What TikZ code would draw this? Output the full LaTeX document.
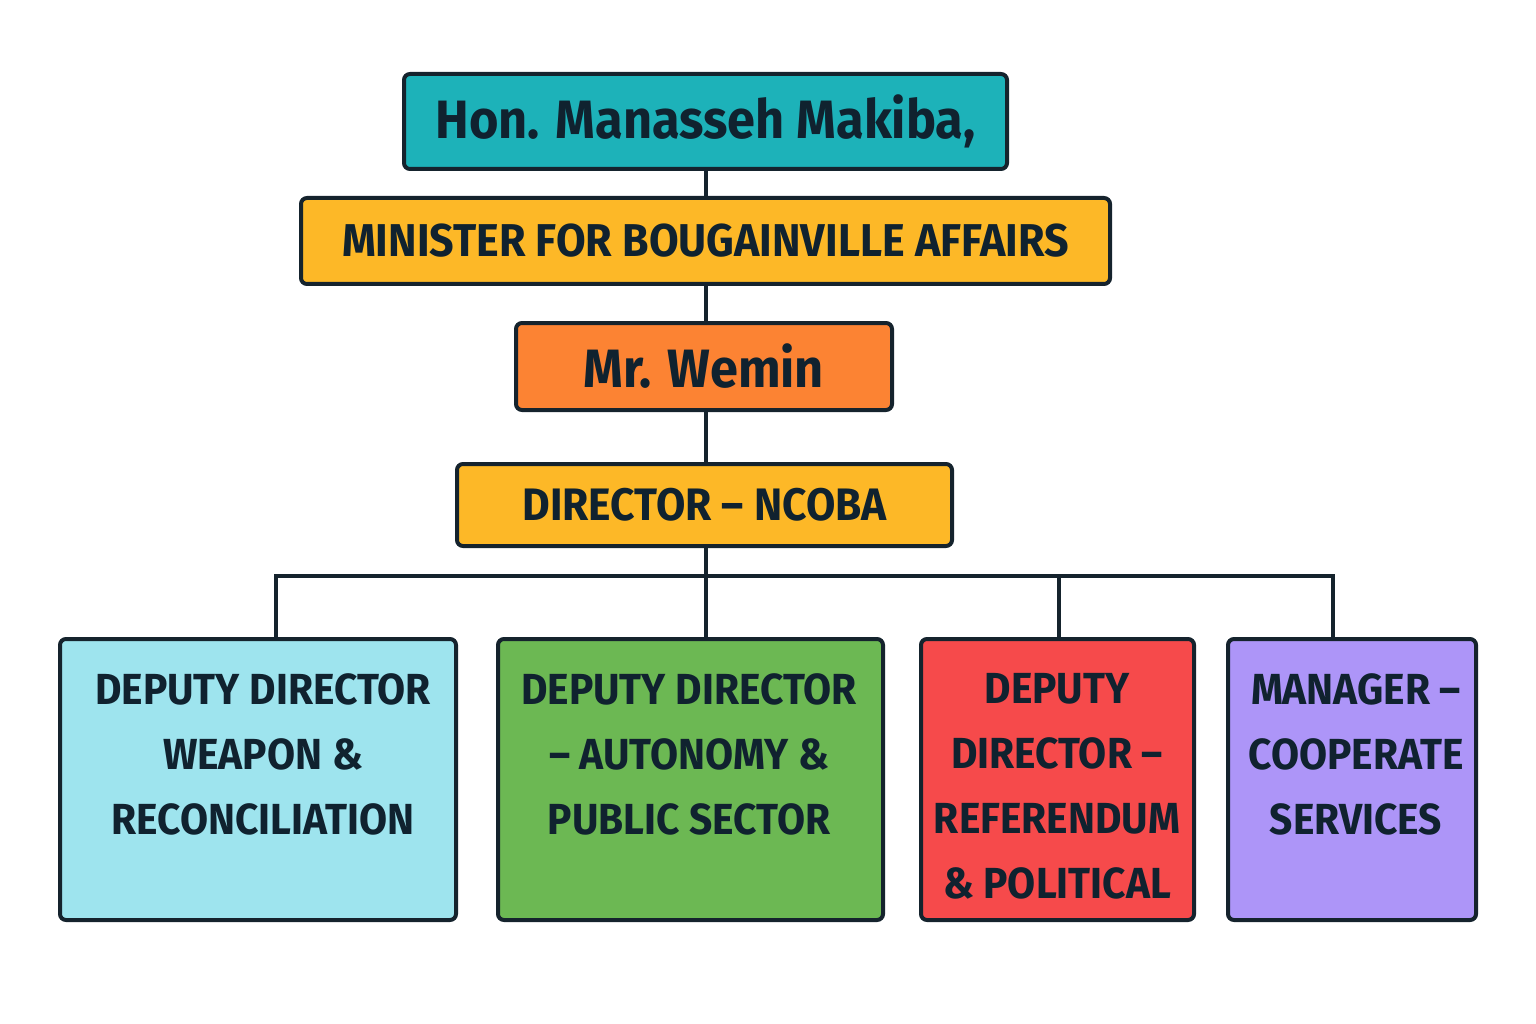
\documentclass[tikz,border=0pt]{standalone}
\usepackage{fontspec}
\newfontfamily\orgfont[FakeStretch=0.935]{Fira Sans Bold}
\definecolor{edgec}{HTML}{15232D}
\definecolor{txtc}{HTML}{10222F}
\definecolor{tealc}{HTML}{1DB2B9}
\definecolor{yellowc}{HTML}{FDB827}
\definecolor{orangec}{HTML}{FC8333}
\definecolor{cyanc}{HTML}{9EE4EE}
\definecolor{greenc}{HTML}{6CB853}
\definecolor{redc}{HTML}{F64A4B}
\definecolor{purplec}{HTML}{AD95F8}
\tikzset{
  orgbox/.style={draw=edgec, line width=4pt, rounded corners=6pt, inner sep=0pt, text=txtc},
  boxlabel/.style={text=txtc, inner sep=0pt, align=center, font=\orgfont\fontsize{43.5}{65}\selectfont},
  link/.style={draw=edgec, line width=3.5pt}
}
\begin{document}
\begin{tikzpicture}[x=1pt,y=-1pt]
\useasboundingbox (0,0) rectangle (1536,1024);
\node[orgbox, fill=tealc, minimum width=603pt, minimum height=95pt, font=\orgfont\fontsize{54}{60}\selectfont] (hon) at (705.5,121.5) {Hon. Manasseh Makiba,};
\node[orgbox, fill=yellowc, minimum width=809pt, minimum height=86pt, font=\orgfont\fontsize{46}{55}\selectfont] (min) at (705.5,241) {MINISTER FOR BOUGAINVILLE AFFAIRS};
\node[orgbox, fill=orangec, minimum width=376pt, minimum height=87pt, font=\orgfont\fontsize{54}{60}\selectfont] (wem) at (704,366.5) {Mr. Wemin};
\node[orgbox, fill=yellowc, minimum width=495pt, minimum height=82pt, font=\orgfont\fontsize{45.5}{55}\selectfont] (dir) at (704.5,505) {DIRECTOR – NCOBA};

\node[orgbox, fill=cyanc, minimum width=396pt, minimum height=281pt] (dwr) at (258,779.5) {};
\node[orgbox, fill=greenc, minimum width=385pt, minimum height=281pt] (dap) at (690.5,779.5) {};
\node[orgbox, fill=redc, minimum width=273pt, minimum height=281pt] (drp) at (1057.5,779.5) {};
\node[orgbox, fill=purplec, minimum width=248pt, minimum height=281pt] (mcs) at (1352,779.5) {};

\node[boxlabel, anchor=north] (tdwr) at (263,673) {DEPUTY DIRECTOR\\WEAPON \&\\RECONCILIATION};
\node[boxlabel, anchor=north] (tdap) at (689,673) {DEPUTY DIRECTOR\\– AUTONOMY \&\\PUBLIC SECTOR};
\node[boxlabel, anchor=north] (tdrp) at (1057,673) {DEPUTY\\DIRECTOR –\\REFERENDUM\\\& POLITICAL};
\node[boxlabel, anchor=north] (tmcs) at (1356,673) {MANAGER –\\COOPERATE\\SERVICES};

\coordinate (bus) at (706,576);
\draw[link] (hon.south -| bus) -- (min.north -| bus);
\draw[link] (min.south -| bus) -- (wem.north -| bus);
\draw[link] (wem.south -| bus) -- (dir.north -| bus);
\draw[link] (dir.south -| bus) -- (bus);
\draw[link] (dwr.north -| 276,0) |- (bus) -| (mcs.north -| 1333,0);
\draw[link] (bus) -- (dap.north -| bus);
\draw[link] (bus -| 1059,0) -- (drp.north -| 1059,0);
\end{tikzpicture}
\end{document}
